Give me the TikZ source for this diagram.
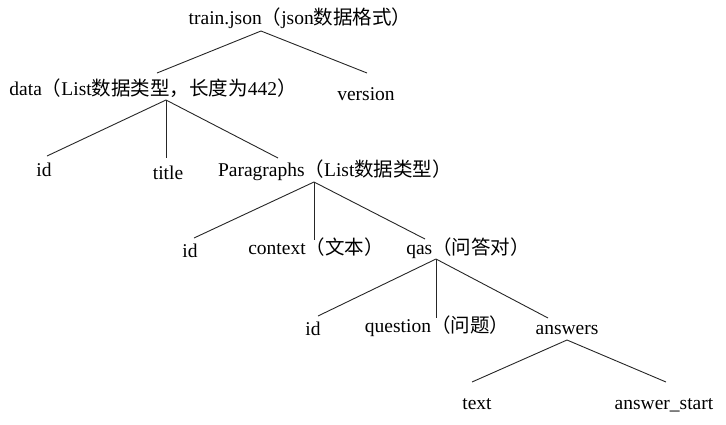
\documentclass[tikz,border=0pt]{standalone}
\usepackage{fontspec}
\setmainfont{Liberation Serif}
\newfontfamily\cjk{Noto Sans CJK SC}
\begin{document}
\begin{tikzpicture}[x=1pt,y=-1pt,
  lbl/.style={inner sep=0pt, anchor=base, font=\fontsize{19.5}{23}\selectfont},
  edge/.style={line width=0.9pt, draw=black!85}]
\useasboundingbox (0,0) rectangle (726,424);
% labels
\node[lbl] (root) at (300,24) {train.json{\cjk （}json{\cjk 数据格式）}};
\node[lbl] (data) at (153,95) {data{\cjk （}List{\cjk 数据类型，长度为}442{\cjk ）}};
\node[lbl] (version) at (366,100) {version};
\node[lbl] (id1) at (44,176) {id};
\node[lbl] (title) at (168,179) {title};
\node[lbl] (para) at (335,176) {Paragraphs{\cjk （}List{\cjk 数据类型）}};
\node[lbl] (id2) at (190,257) {id};
\node[lbl] (context) at (316,254) {context{\cjk （文本）}};
\node[lbl] (qas) at (468,254) {qas{\cjk （问答对）}};
\node[lbl] (id3) at (313,335) {id};
\node[lbl] (question) at (437,332) {question{\cjk （问题）}};
\node[lbl] (answers) at (567,334) {answers};
\node[lbl] (text) at (477,409) {text};
\node[lbl] (astart) at (664,409) {answer\_start};
% connector points
\coordinate (rootA) at (261,31);
\coordinate (dataT) at (157,73);
\coordinate (versionT) at (367,73);
\coordinate (dataA) at (166,100);
\coordinate (id1T) at (47,156);
\coordinate (titleT) at (166,158);
\coordinate (paraT) at (278,158);
\coordinate (paraA) at (314,182);
\coordinate (id2T) at (194,238);
\coordinate (contextT) at (314,240);
\coordinate (qasT) at (425,239);
\coordinate (qasA) at (436,259);
\coordinate (id3T) at (318,316);
\coordinate (questionT) at (436,318);
\coordinate (answersT) at (548,318);
\coordinate (answersA) at (567,340);
\coordinate (textT) at (472,382);
\coordinate (astartT) at (666,382);
% connectors
\draw[edge] (rootA) -- (dataT);
\draw[edge] (rootA) -- (versionT);
\draw[edge] (dataA) -- (id1T);
\draw[edge] (dataA) -- (titleT);
\draw[edge] (dataA) -- (paraT);
\draw[edge] (paraA) -- (id2T);
\draw[edge] (paraA) -- (contextT);
\draw[edge] (paraA) -- (qasT);
\draw[edge] (qasA) -- (id3T);
\draw[edge] (qasA) -- (questionT);
\draw[edge] (qasA) -- (answersT);
\draw[edge] (answersA) -- (textT);
\draw[edge] (answersA) -- (astartT);
\end{tikzpicture}
\end{document}
